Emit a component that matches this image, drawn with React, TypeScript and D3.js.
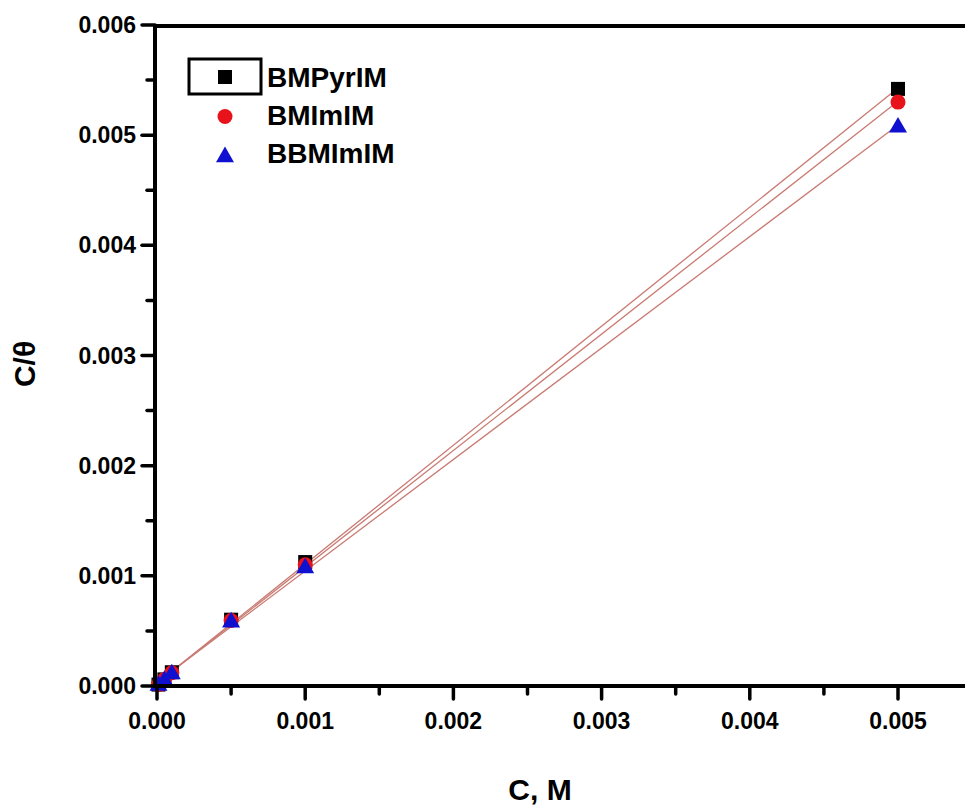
import React from "react";
import * as d3 from "d3";

const concentrations = [0.00001, 0.00005, 0.0001, 0.0005, 0.001, 0.005];
const bmpyrim = [0.000013, 0.00006, 0.000125, 0.000602, 0.001125, 0.00542];
const bmimim = [0.000012, 0.000058, 0.00012, 0.000595, 0.0011, 0.0053];
const bbmimim = [0.000012, 0.000057, 0.000117, 0.000588, 0.00108, 0.00508];
const seriesNames = ["BMPyrIM", "BMImIM", "BBMImIM"];
const xTicks = [0, 0.001, 0.002, 0.003, 0.004, 0.005];
const yTicks = [0, 0.001, 0.002, 0.003, 0.004, 0.005, 0.006];

const W = 965, H = 810;
const FONT = "'Liberation Sans', Arial, sans-serif";

function fit(xs: number[], ys: number[]) {
  const mx = d3.mean(xs)!, my = d3.mean(ys)!;
  let sxy = 0, sxx = 0;
  xs.forEach((x, i) => { sxy += (x - mx) * (ys[i] - my); sxx += (x - mx) ** 2; });
  const b = sxy / sxx;
  return { b, a: my - b * mx };
}

export default function App() {
  const x = d3.scaleLinear().domain([0, 0.005]).range([157, 898]);
  const y = d3.scaleLinear().domain([0, 0.006]).range([686, 25]);
  const left = 155, bottom = 686, top = 26;
  const xMinor = d3.range(0, 0.0056, 0.0005);
  const yMinor = d3.range(0, 0.0061, 0.0005);
  const data = [bmpyrim, bmimim, bbmimim];
  const sym = (k: number, cx: number, cy: number, key: string) => {
    if (k === 0) return <rect key={key} x={cx - 7} y={cy - 7} width={14} height={14} fill="#000" />;
    if (k === 1) return <circle key={key} cx={cx} cy={cy} r={7.5} fill="#e8131a" />;
    return <path key={key} d={d3.symbol(d3.symbolTriangle, 140)()!} transform={`translate(${cx},${cy + 1})`} fill="#1010d0" />;
  };
  return (
    <svg width={W} height={H} style={{ position: "fixed", left: 0, top: 0, background: "#fff" }}>
      <rect width={W} height={H} fill="#fff" />
      {data.map((ys, k) => {
        const f = fit(concentrations, ys);
        const x0 = concentrations[0], x1 = concentrations[concentrations.length - 1];
        return <line key={"f" + k} x1={x(x0)} y1={y(f.a + f.b * x0)} x2={x(x1)} y2={y(f.a + f.b * x1)}
          stroke="#c97a72" strokeWidth={1.3} />;
      })}
      {data.map((ys, k) => ys.map((v, i) => sym(k, x(concentrations[i]), y(v), `m${k}-${i}`)))}
      <line x1={left} x2={W} y1={top} y2={top} stroke="#000" strokeWidth={4} />
      <line x1={left} x2={left} y1={top - 2} y2={bottom + 2} stroke="#000" strokeWidth={4} />
      <line x1={left - 2} x2={W} y1={bottom} y2={bottom} stroke="#000" strokeWidth={4} />
      {xMinor.map((t, i) => (
        <line key={"xm" + i} x1={x(t)} x2={x(t)} y1={bottom} y2={bottom + (i % 2 === 0 ? 13 : 8)}
          stroke="#000" strokeWidth={3.5} strokeLinecap="round" />
      ))}
      {yMinor.map((t, i) => (
        <line key={"ym" + i} x1={left} x2={left - (i % 2 === 0 ? 13 : 8)} y1={y(t)} y2={y(t)}
          stroke="#000" strokeWidth={3.5} strokeLinecap="round" />
      ))}
      {xTicks.map((t) => (
        <text key={"xt" + t} x={x(t)} y={729} textAnchor="middle" fontFamily={FONT} fontWeight="bold" fontSize={23}>
          {d3.format(".3f")(t)}
        </text>
      ))}
      {yTicks.map((t) => (
        <text key={"yt" + t} x={136} y={y(t) + 8} textAnchor="end" fontFamily={FONT} fontWeight="bold" fontSize={23}>
          {d3.format(".3f")(t)}
        </text>
      ))}
      <text x={540} y={800} textAnchor="middle" fontFamily={FONT} fontWeight="bold" fontSize={30}>C, M</text>
      <text transform={`translate(35,364) rotate(-90)`} textAnchor="middle" fontFamily={FONT} fontWeight="bold" fontSize={30}>C/θ</text>
      <rect x={189} y={59} width={72} height={35} fill="none" stroke="#000" strokeWidth={3} />
      {seriesNames.map((n, k) => (
        <g key={"lg" + k}>
          {sym(k, 225, 77 + k * 39.5, "ls" + k)}
          <text x={267} y={87 + k * 38} fontFamily={FONT} fontWeight="bold" fontSize={28}>{n}</text>
        </g>
      ))}
    </svg>
  );
}
